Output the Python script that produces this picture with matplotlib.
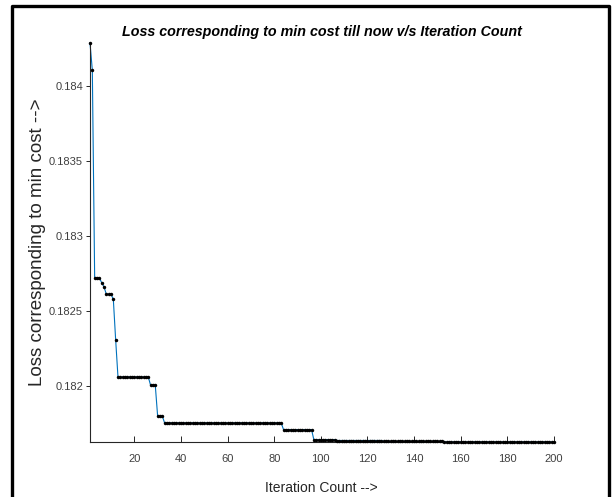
import numpy as np
import matplotlib
matplotlib.use('Agg')
import matplotlib.pyplot as plt
from matplotlib.ticker import FormatStrFormatter

# loss level of each flat step and how many iterations it lasts
loss_levels = [0.184289, 0.184107, 0.182720, 0.182689, 0.182660, 0.182611,
               0.182578, 0.182307, 0.182058, 0.182002, 0.181798, 0.181751,
               0.181707, 0.181640, 0.181634, 0.181628, 0.181624]
level_counts = [1, 1, 3, 1, 1, 3, 1, 1, 14, 3, 3, 51, 13, 10, 20, 26, 48]

x_ticks = [20, 40, 60, 80, 100, 120, 140, 160, 180, 200]
y_ticks = [0.182, 0.1825, 0.183, 0.1835, 0.184]

loss = np.repeat(loss_levels, level_counts)
iters = np.arange(1, len(loss) + 1)

plt.rcParams['font.family'] = ['Liberation Sans', 'DejaVu Sans']

fig = plt.figure(figsize=(6.12, 4.97), dpi=100)
W, H = 612.0, 497.0
ax = fig.add_axes([90 / W, 1 - 442 / H, (554 - 90) / W, (442 - 43) / H])

ax.plot(iters, loss, '-', color='#0072BD', lw=0.8, clip_on=False, zorder=2)
ax.plot(iters, loss, 'o', color='k', ms=2.5, mew=0, clip_on=False, zorder=3)

ax.set_xlim(1, 200)
ax.set_ylim(loss.min(), loss.max())
ax.set_xticks(x_ticks)
ax.set_yticks(y_ticks)
ax.yaxis.set_major_formatter(FormatStrFormatter('%g'))

for s in ['top', 'right']:
    ax.spines[s].set_visible(False)
for s in ['left', 'bottom']:
    ax.spines[s].set_color('#262626')
    ax.spines[s].set_linewidth(0.8)

ax.tick_params(axis='x', direction='in', length=4, width=0.7, colors='#262626',
               labelcolor='#404040', labelsize=8, pad=9)
ax.tick_params(axis='y', direction='out', length=3, width=0.7, colors='#262626',
               labelcolor='#404040', labelsize=8, pad=2)

fig.text(321.5 / W, 1 - 36 / H, 'Loss corresponding to min cost till now v/s Iteration Count',
         ha='center', va='baseline', fontsize=10.3, fontweight='bold', fontstyle='italic')
fig.text(321.5 / W, 1 - 492 / H, 'Iteration Count -->', ha='center', va='baseline',
         fontsize=10, color='#262626')
fig.text(38 / W, 1 - 242 / H, 'Loss corresponding to min cost -->', rotation=90,
         ha='center', va='center', fontsize=13.5, color='#262626')

# black frame around the picture (bottom edge is cropped off)
fig.add_artist(plt.Line2D([12 / W, 12 / W, 609 / W, 609 / W], [0, 1 - 6 / H, 1 - 6 / H, 0],
                          transform=fig.transFigure, color='k', lw=2.4))

fig.savefig('out.png', dpi=100)
